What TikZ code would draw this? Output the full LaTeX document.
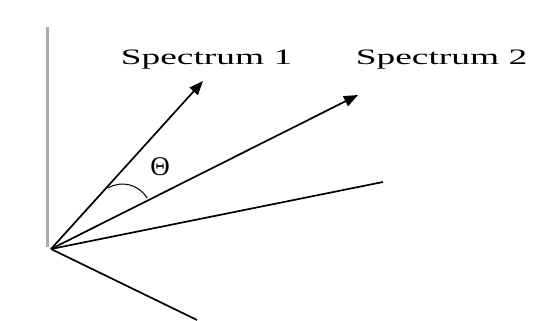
\documentclass[tikz,border=0pt]{standalone}
\usepackage{fontspec}
\setmainfont{Liberation Serif}
\usetikzlibrary{arrows.meta}

\begin{document}
\begin{tikzpicture}[x=1pt,y=1pt,>={Triangle[length=14pt,width=11pt]},
  vec/.style={line width=1.7pt},
  lbl/.style={font=\fontsize{22}{24}\selectfont,xscale=1.7,transform shape,anchor=base}]
\useasboundingbox (-51,-72) rectangle (482,249);
\coordinate (O) at (0,0);
\coordinate (axtop) at (-3,222);
\coordinate (axbot) at (-3,2);
\coordinate (s1) at (152,168);
\coordinate (s2) at (307,154);
\coordinate (s3) at (332,67);
\coordinate (s4) at (146,-71);
\draw[gray!65,line width=3pt] (axtop) -- (axbot);
\draw[vec,->] (O) -- (s1);
\draw[vec,->] (O) -- (s2);
\draw[vec] (O) -- (s3);
\draw[vec] (O) -- (s4);
% angle between the two spectra
\coordinate (a1) at (57,61);
\coordinate (a2) at (96,51);
\draw[line width=1pt] (a1) to[bend left=45] (a2);
\node[font=\fontsize{27}{30}\selectfont] (theta) at (109,82) {Θ};
\node[lbl] (spec1) at (155.5,184) {Spectrum 1};
\node[lbl] (spec2) at (390.5,184) {Spectrum 2};
\end{tikzpicture}
\end{document}
